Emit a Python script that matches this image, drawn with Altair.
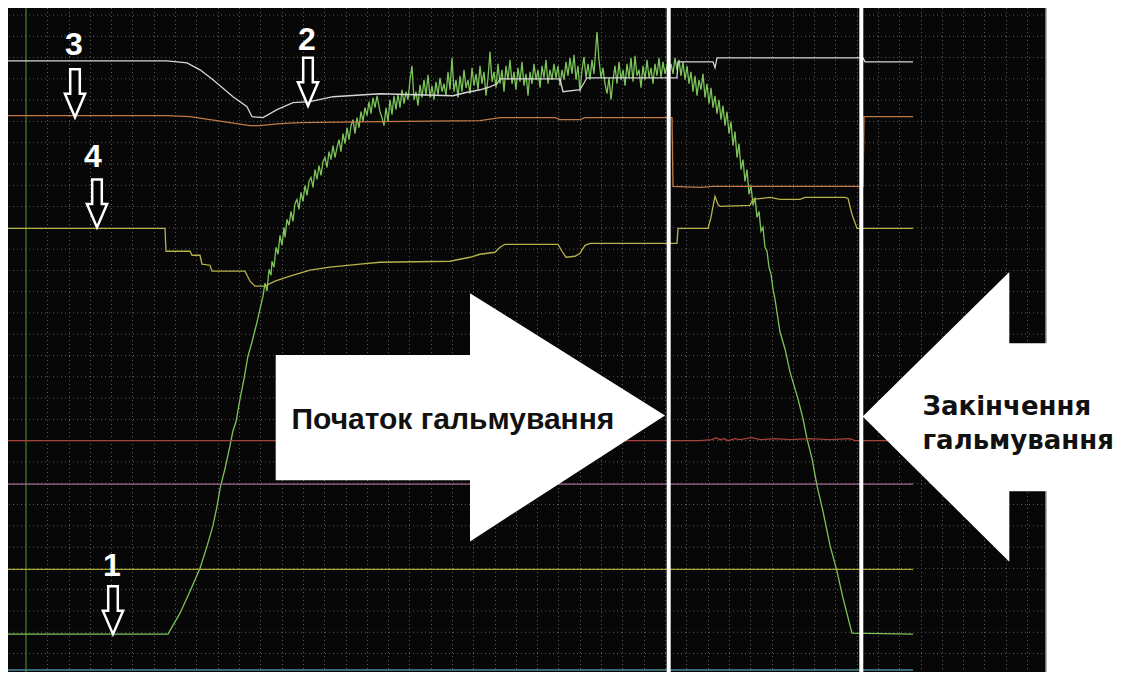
import altair as alt
import pandas as pd

# ---------------- data (time in screen-sample units, level read downward: 8 = top, 680 = bottom)
# Trace 1 (green, speed)
t1 = [8, 168, 180, 190, 200, 207, 213, 217, 220, 225, 230, 233, 236, 240, 244, 248, 252, 257, 260,
      263, 265, 267, 269, 271, 272, 274, 276, 278, 280, 282, 284, 285, 287, 289, 291, 293, 295, 297, 299,
      301, 303, 305, 307, 309, 311, 313, 315, 317, 319, 321, 323, 325, 327, 329, 331, 333, 335, 337, 339,
      341, 343, 345, 347, 349, 351, 353, 355, 357, 359, 361, 363, 365, 367, 369, 371, 373, 375, 377, 380,
      382, 384, 386, 388, 390, 392, 394, 396,
      398, 400, 402, 404, 406, 408, 410, 412, 414, 416, 418, 420, 422, 424, 426, 428, 430, 432, 434, 436,
      438, 440, 442, 444, 446, 448, 450, 452, 454, 456, 458, 460, 462, 464, 466, 468, 470, 472, 474, 476,
      478, 480, 482, 484, 486, 488, 490, 492, 494, 496, 498, 500, 502, 504, 506, 508, 510, 512, 514, 516,
      518, 520, 522, 524, 526, 528, 530, 532, 534, 536, 538, 540, 542, 544, 546, 548, 550, 552, 554, 556,
      558, 560, 562, 564, 566, 568, 570, 572, 574, 576, 578, 580, 582, 584, 586, 588, 590, 592, 594, 596,
      597, 599, 601, 603, 605, 607, 609, 611, 613, 615, 617, 619, 621, 623, 625, 627, 629, 631, 633, 635,
      637, 639, 641, 643, 645, 647, 649, 651, 653, 655, 657, 659, 661, 663, 665, 667, 669, 671, 673, 675,
      677, 679, 681, 683, 685, 687, 689, 691, 693, 695, 697, 699, 701, 703, 705, 707, 709, 711, 713, 715,
      717, 719, 721, 723, 725, 727, 729, 731, 733, 735, 737, 739, 741, 743, 745, 747, 749, 751, 753, 755,
      757, 759, 761, 763, 765, 767, 769, 771, 773, 775,
      780, 785, 790, 795, 798, 803, 807, 812, 817, 823, 830, 837, 843, 852, 913]
v1 = [636, 636, 615, 593, 570, 548, 527, 508, 490, 470, 447, 432, 423, 400, 380, 357, 343, 323, 310,
      297, 284, 292, 270, 276, 262, 268, 248, 255, 236, 246, 228, 238, 220, 226, 212, 222, 204, 200, 210,
      193, 202, 186, 196, 182, 178, 188, 170, 180, 166, 176, 162, 158, 168, 152, 160, 146, 158, 148, 140,
      152, 134, 144, 128, 140, 126, 120, 134, 118, 128, 112, 122, 108, 116, 102, 114, 98, 108, 96, 112,
      118, 126, 108, 122, 100, 115, 96, 110,
      94, 108, 90, 104, 92, 100, 80, 66, 100, 92, 106, 85, 98, 80, 96, 75, 98, 86, 100, 82,
      95, 78, 92, 84, 96, 72, 90, 58, 92, 80, 98, 76, 92, 70, 88, 80, 94, 68, 86, 74,
      90, 66, 84, 72, 96, 78, 52, 82, 72, 88, 64, 84, 70, 92, 66, 80, 60, 84, 72, 90,
      68, 82, 62, 86, 74, 96, 72, 84, 64, 80, 70, 88, 66, 78, 60, 84, 70, 80, 64, 78,
      66, 86, 70, 80, 62, 76, 58, 74, 55, 80, 66, 92, 70, 57, 78, 64, 80, 60, 74, 45,
      32, 60, 78, 68, 84, 94, 78, 100, 80, 66, 84, 62, 80, 70, 86, 64, 78, 58, 82, 56,
      76, 70, 88, 66, 80, 60, 78, 68, 84, 64, 76, 58, 78, 62, 74, 66, 72, 64, 74, 58,
      70, 60, 76, 62, 80, 66, 84, 72, 92, 76, 96, 80, 90, 74, 98, 84, 104, 88, 108, 96,
      114, 100, 120, 106, 126, 112, 134, 122, 146, 132, 158, 144, 170, 160, 182, 170, 195, 186, 206, 198,
      218, 212, 232, 228, 248, 252, 268, 275, 290, 300,
      333, 350, 373, 390, 400, 420, 440, 460, 487, 513, 547, 573, 600, 635, 636]

# Trace 2 (white)
t2 = [8, 167, 187, 200, 213, 233, 247, 252, 263, 277, 293, 310, 333, 380, 453, 465, 480, 490, 497, 500,
      560, 563, 580, 587, 677, 678, 713, 715, 717, 863, 865, 913]
v2 = [61, 61, 63, 70, 80, 97, 107, 117, 118, 110, 103, 102, 97, 94, 96, 93, 90, 87, 84, 79,
      79, 92, 90, 78, 78, 62, 62, 68, 58, 58, 62, 62]

# Trace 3 (orange)
t3 = [8, 167, 190, 210, 230, 250, 260, 280, 300, 380, 480, 500, 555, 560, 580, 585, 672, 673, 700, 713,
      863, 864, 913]
v3 = [116, 116, 117, 120, 123, 126, 126, 124, 123, 122, 121, 118, 118, 120, 120, 118, 118, 187, 188, 187,
      187, 117, 117]

# Trace 4 (yellow)
t4 = [8, 165, 166, 190, 192, 200, 202, 210, 212, 245, 250, 255, 265, 275, 290, 310, 330, 360, 380, 450,
      460, 470, 480, 495, 500, 505, 558, 562, 566, 575, 580, 585, 590, 677, 678, 708, 711, 713, 715, 718,
      720, 750, 753, 770, 780, 800, 805, 845, 848, 852, 857, 913]
v4 = [229, 229, 252, 252, 256, 256, 265, 266, 272, 272, 282, 287, 287, 282, 277, 271, 268, 265, 263, 262,
      260, 258, 255, 253, 248, 245, 245, 252, 258, 257, 254, 246, 244, 244, 229, 229, 218, 207, 197, 205,
      207, 206, 200, 198, 200, 200, 198, 198, 199, 215, 229, 229]

# Red channel
t_red = [8, 700, 712, 716, 720, 724, 728, 735, 740, 752, 760, 775, 790, 810, 830, 850, 855, 913]
v_red = [442, 442, 441, 439, 441, 440, 442, 440, 441, 439, 441, 440, 441, 440, 441, 440, 442, 442]

# Flat channels
flat_names = ["purple", "olive", "teal"]
flat_levels = [485.5, 571, 672]
t_start, t_end = 8, 913

# Markers (start / end of braking)
marker_t = [668.7, 861.3]
trigger_t = [26]

# Annotations
label_text = ["3", "2", "4", "1"]
label_t = [74, 307, 93, 112]
label_v = [55, 50, 167, 578]
arrow_t = [75, 308, 97, 113]
arrow_v = [93.5, 82, 204, 612]

# ---------------- build tables
rows = []
for name, ts, vs in [("t1", t1, v1), ("t2", t2, v2), ("t3", t3, v3), ("t4", t4, v4), ("red", t_red, v_red)]:
    for i, (t, v) in enumerate(zip(ts, vs)):
        rows.append({"series": name, "i": i, "t": t, "v": v})
for name, lv in zip(flat_names, flat_levels):
    rows.append({"series": name, "i": 0, "t": t_start, "v": lv})
    rows.append({"series": name, "i": 1, "t": t_end, "v": lv})
traces = pd.DataFrame(rows)

series_dom = ["red", "purple", "olive", "teal", "t3", "t4", "t2", "t1"]
series_rng = ["#a8403c", "#a06a96", "#a8a53a", "#4c8c98", "#c27a44", "#b8b24a", "#d6d6d6", "#7cc45a"]

X = alt.Scale(domain=[8, 1046], nice=False, zero=False)
Y = alt.Scale(domain=[674, 8], nice=False, zero=False)

gx = [round(26 + 21.3 * k) + 0.5 for k in range(1, 48)]
gy = [15 + 21.35 * k for k in range(0, 31)]

grid_v = alt.Chart(pd.DataFrame({"t": gx})).mark_rule(
    color="#5c5c5c", strokeWidth=1, strokeDash=[1, 3]).encode(x=alt.X("t:Q", scale=X, axis=None))
grid_h = alt.Chart(pd.DataFrame({"v": gy})).mark_rule(
    color="#5c5c5c", strokeWidth=1, strokeDash=[1, 3]).encode(y=alt.Y("v:Q", scale=Y, axis=None))

trig = alt.Chart(pd.DataFrame({"t": trigger_t})).mark_rule(color="#4e9a30", strokeWidth=1).encode(
    x=alt.X("t:Q", scale=X, axis=None))
edge = alt.Chart(pd.DataFrame({"t": [1046]})).mark_rule(color="#9a9a9a", strokeWidth=1.5).encode(
    x=alt.X("t:Q", scale=X, axis=None))

lines = alt.Chart(traces).mark_line(strokeWidth=1.3, interpolate="linear").encode(
    x=alt.X("t:Q", scale=X, axis=None),
    y=alt.Y("v:Q", scale=Y, axis=None),
    color=alt.Color("series:N", scale=alt.Scale(domain=series_dom, range=series_rng), legend=None),
    detail="series:N",
    order="i:Q",
)

markers = alt.Chart(pd.DataFrame({"t": marker_t})).mark_rule(color="white", strokeWidth=4).encode(
    x=alt.X("t:Q", scale=X, axis=None))

# Big white arrows
body = pd.DataFrame({"a": ["start", "end"], "x0": [275.7, 1008], "x1": [472, 1124],
                     "y0": [356, 344.3], "y1": [481.7, 492.7]})
bodies = alt.Chart(body).mark_rect(color="white", clip=False).encode(
    x=alt.X("x0:Q", scale=X, axis=None), x2="x1:Q",
    y=alt.Y("y0:Q", scale=Y, axis=None), y2="y1:Q")
head = pd.DataFrame({"a": ["start", "start", "end", "end"],
                     "t": [470, 665, 862.7, 1009.3],
                     "top": [294, 416.7, 417.7, 272.7],
                     "bot": [543, 416.7, 417.7, 563.3]})
heads = alt.Chart(head).mark_area(color="white", interpolate="linear", clip=False).encode(
    x=alt.X("t:Q", scale=X, axis=None),
    y=alt.Y("top:Q", scale=Y, axis=None), y2="bot:Q",
    detail="a:N")

txt1 = alt.Chart(pd.DataFrame({"t": [291.5], "v": [430], "s": ["Початок гальмування"]})).mark_text(
    font="Liberation Sans", fontSize=30, fontWeight="bold", color="#111111",
    align="left", baseline="alphabetic").encode(
    x=alt.X("t:Q", scale=X, axis=None), y=alt.Y("v:Q", scale=Y, axis=None), text="s:N")
txt2a = alt.Chart(pd.DataFrame({"t": [922.5], "v": [416], "s": ["Закінчення"]})).mark_text(
    font="DejaVu Sans", fontSize=26, fontWeight="bold", color="#111111",
    align="left", baseline="alphabetic").encode(
    x=alt.X("t:Q", scale=X, axis=None), y=alt.Y("v:Q", scale=Y, axis=None), text="s:N")
txt2b = alt.Chart(pd.DataFrame({"t": [922.5], "v": [450.5], "s": ["гальмування"]})).mark_text(
    font="DejaVu Sans", fontSize=26, fontWeight="bold", color="#111111",
    align="left", baseline="alphabetic").encode(
    x=alt.X("t:Q", scale=X, axis=None), y=alt.Y("v:Q", scale=Y, axis=None), text="s:N")

lab = pd.DataFrame({"s": label_text, "t": label_t, "v": label_v})
labels = alt.Chart(lab).mark_text(
    font="Liberation Sans", fontSize=32, fontWeight="bold", color="white",
    align="center", baseline="alphabetic").encode(
    x=alt.X("t:Q", scale=X, axis=None), y=alt.Y("v:Q", scale=Y, axis=None), text="s:N")

arrow_shape = "M -0.2 -1 L 0.2 -1 L 0.2 0.02 L 0.42 0.02 L 0 1 L -0.42 0.02 L -0.2 0.02 Z"
arr = pd.DataFrame({"t": arrow_t, "v": arrow_v})
arrows = alt.Chart(arr).mark_point(
    shape=arrow_shape, size=2304, filled=True, fill="#050505", stroke="white",
    strokeWidth=2.5, opacity=1, fillOpacity=1, strokeOpacity=1).encode(
    x=alt.X("t:Q", scale=X, axis=None), y=alt.Y("v:Q", scale=Y, axis=None))

chart = alt.layer(grid_v, grid_h, trig, edge, lines, markers, bodies, heads,
                  txt1, txt2a, txt2b, labels, arrows).properties(
    width=1038, height=664,
    autosize=alt.AutoSizeParams(type="none"),
    padding={"left": 0, "top": 0, "right": 70, "bottom": 0},
    background="white",
).configure_view(fill="#070707", stroke=None)

chart.save("out.html", embed_options={"renderer": "svg", "actions": False})
